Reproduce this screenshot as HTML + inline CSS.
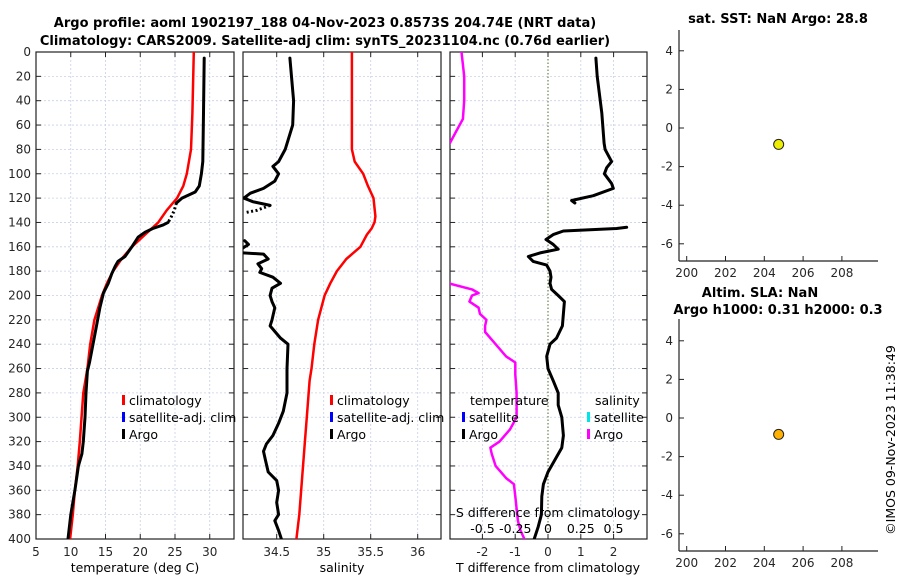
<!DOCTYPE html>
<html><head><meta charset="utf-8">
<style>
body{margin:0;background:#fff;}
svg{display:block;font-family:"DejaVu Sans","Liberation Sans",sans-serif;}
.tk{font-size:12px;fill:#262626;}
.ttl{font-size:13px;font-weight:bold;fill:#000;}
.lg{font-size:12.5px;fill:#000;}
</style></head>
<body>
<svg id="c" width="900" height="580" viewBox="0 0 900 580"></svg>
<script>
// ---- data ----
const depthTicks=[0,20,40,60,80,100,120,140,160,180,200,220,240,260,280,300,320,340,360,380,400];
const tempTicks=[5,10,15,20,25,30];
const salTicks=[34.5,35,35.5,36];
const dTTicks=[-2,-1,0,1,2];
const dSTicks=[-0.5,-0.25,0,0.25,0.5];
const dSTickLabels=["-0.5","-0.25","0","0.25","0.5"];
const lonTicks=[200,202,204,206,208];
const sstTicks=[4,2,0,-2,-4,-6];
const slaTicks=[4,2,0,-2,-4,-6];

const climTempDepth=[0,50,80,100,110,120,130,140,150,160,170,180,190,200,220,240,260,280,320,340,360,380,400];
const climTemp=[27.7,27.5,27.3,26.7,26.2,25.3,23.8,22.6,20.7,18.8,17.3,16.1,15.2,14.5,13.4,12.8,12.4,11.8,11.3,11.0,10.6,10.3,9.9];
const argoTempDepth=[5,50,90,100,110,115,120,124,null,140,142,145,148,152,160,168,172,176,182,190,198,210,225,240,255,262,280,300,320,330,340,360,380,400];
const argoTemp=[29.2,29.1,29.0,28.8,28.5,27.9,26.0,25.2,null,24.0,23.3,21.8,20.7,19.7,18.8,17.8,16.8,16.4,15.9,15.4,14.7,14.2,13.7,13.2,12.7,12.4,12.2,12.05,11.8,11.6,11.1,10.6,10.0,9.6];
const argoTempDotDepth=[124,130,135,140];
const argoTempDot=[25.2,24.9,24.5,24.0];

const climSalDepth=[0,80,90,100,110,120,135,140,145,150,160,170,180,190,200,220,240,260,270,300,320,350,380,400];
const climSal=[35.30,35.30,35.33,35.42,35.47,35.53,35.55,35.54,35.51,35.46,35.39,35.24,35.14,35.07,35.01,34.94,34.90,34.87,34.85,34.82,34.80,34.77,34.74,34.71];
const argoSalDepth=[5,40,60,80,90,94,100,106,112,116,120,123,126,null,155,158,161,null,165,166,170,174,178,181,185,190,194,200,205,210,220,225,235,240,260,270,280,295,305,315,322,328,335,345,352,360,370,380,385,393,400];
const argoSal=[34.64,34.68,34.67,34.59,34.52,34.46,34.52,34.48,34.36,34.22,34.15,34.25,34.43,null,34.16,34.20,34.14,null,34.14,34.36,34.41,34.30,34.34,34.32,34.46,34.54,34.45,34.43,34.45,34.48,34.45,34.43,34.54,34.62,34.61,34.61,34.61,34.57,34.52,34.46,34.39,34.36,34.38,34.41,34.50,34.52,34.50,34.52,34.48,34.52,34.55];
const argoSalDotDepth=[126,128,130,132];
const argoSalDot=[34.43,34.36,34.29,34.16];

const dTDepth=[5,20,50,75,80,90,95,100,108,112,118,122,124,null,144,145,147,150,154,158,162,165,168,172,175,180,185,190,195,200,205,215,225,235,240,250,260,270,280,290,300,315,325,335,345,355,365,380,390,400];
const dT=[1.46,1.5,1.64,1.71,1.74,1.94,1.79,1.72,1.94,1.99,1.38,0.72,0.82,null,2.4,2.09,0.47,0.16,-0.06,0.16,0.31,-0.24,-0.6,-0.45,-0.04,0.06,0.09,0.06,0.11,0.31,0.5,0.47,0.44,0.26,0.06,-0.04,0.0,0.16,0.31,0.31,0.42,0.47,0.42,0.21,0.0,-0.14,-0.19,-0.2,-0.3,-0.42];
const dSDepth=[0,20,40,55,65,75,null,190,195,198,200,205,210,215,220,225,230,240,250,255,265,280,290,300,310,320,325,330,340,350,355,365,375,385,393,400];
const dS=[-0.66,-0.64,-0.64,-0.65,-0.70,-0.75,null,-0.76,-0.58,-0.53,-0.58,-0.60,-0.53,-0.52,-0.47,-0.48,-0.48,-0.40,-0.32,-0.25,-0.25,-0.24,-0.24,-0.24,-0.29,-0.37,-0.44,-0.43,-0.40,-0.32,-0.26,-0.25,-0.24,-0.23,-0.21,-0.18];

const argoLon=[204.74];
const argoLat=[-0.85];
const argoLatB=[-0.85];

// ---- drawing ----
const svg=document.getElementById('c');
const NS='http://www.w3.org/2000/svg';
function mk(tag,attrs,parent){const e=document.createElementNS(NS,tag);for(const k in attrs)e.setAttribute(k,attrs[k]);(parent||svg).appendChild(e);return e;}
function txt(x,y,s,cls,anchor,parent){const t=mk('text',{x:x,y:y,class:cls,'text-anchor':anchor||'middle'},parent);t.textContent=s;return t;}

const yTop=52,yBot=539;
const yD=d=>yTop+(d/400)*(yBot-yTop);
const panels=[
 {name:'temperature-panel',x0:36,x1:234,sx:v=>36+(v-5)*6.95},
 {name:'salinity-panel',x0:243,x1:441,sx:v=>276.7+(v-34.5)*94},
 {name:'difference-panel',x0:450,x1:647,sx:v=>548+v*32.8}
];
const sxS=v=>548+v*131;

function path(xs,ds,sx,color,w,name,dash){
  let d='',pen=false;
  for(let i=0;i<xs.length;i++){
    if(xs[i]===null||ds[i]===null){pen=false;continue;}
    d+=(pen?'L':'M')+sx(xs[i]).toFixed(1)+' '+yD(ds[i]).toFixed(1);pen=true;
  }
  const p=mk('path',{d:d,fill:'none',stroke:color,'stroke-width':w,'stroke-linejoin':'round','stroke-linecap':dash?'butt':'round'});
  if(dash)p.setAttribute('stroke-dasharray',dash);
  
  
  return p;
}

panels.forEach((P,pi)=>{
  const g=mk('g',{});
  
  
  depthTicks.forEach(d=>{
    mk('line',{x1:P.x0,x2:P.x1,y1:yD(d),y2:yD(d),stroke:'#c8d0e8','stroke-width':0.8,'stroke-dasharray':'2 2'},g);
    mk('line',{x1:P.x0,x2:P.x0+5,y1:yD(d),y2:yD(d),stroke:'#222','stroke-width':1},g);
    mk('line',{x1:P.x1-5,x2:P.x1,y1:yD(d),y2:yD(d),stroke:'#222','stroke-width':1},g);
  });
  let ticks=pi===0?tempTicks:pi===1?salTicks:dTTicks;
  ticks.forEach(v=>{
    const x=P.sx(v);
    if(pi===2&&v===0){
      mk('line',{x1:x,x2:x,y1:yTop,y2:yBot,stroke:'#4a6a2a','stroke-width':1,'stroke-dasharray':'1.5 2'},g);
    } else {
      mk('line',{x1:x,x2:x,y1:yTop,y2:yBot,stroke:'#c8d0e8','stroke-width':0.8,'stroke-dasharray':'2 2'},g);
    }
    mk('line',{x1:x,x2:x,y1:yBot,y2:yBot-5,stroke:'#222'},g);
    mk('line',{x1:x,x2:x,y1:yTop,y2:yTop+5,stroke:'#222'},g);
    const t=txt(x,556,String(v),'tk','middle',g);
    
    
  });
  mk('rect',{x:P.x0,y:yTop,width:P.x1-P.x0,height:yBot-yTop,fill:'none',stroke:'#222','stroke-width':1.2},g);
});
depthTicks.forEach(d=>{
  const t=txt(31,yD(d)+4,String(d),'tk','end');
  
  
});
const defs=mk('defs',{});
panels.forEach((P,i)=>{const cp=mk('clipPath',{id:'cp'+i},defs);mk('rect',{x:P.x0,y:yTop,width:P.x1-P.x0,height:yBot-yTop},cp);});

let p;
p=path(climTemp,climTempDepth,panels[0].sx,'#ff0000',2.5,'climatology-temperature-line');p.setAttribute('clip-path','url(#cp0)');
p=path(argoTemp,argoTempDepth,panels[0].sx,'#000',3,'argo-temperature-line');p.setAttribute('clip-path','url(#cp0)');
p=path(argoTempDot,argoTempDotDepth,panels[0].sx,'#000',3,'argo-temperature-dotted','2 2.5');p.setAttribute('clip-path','url(#cp0)');
p=path(climSal,climSalDepth,panels[1].sx,'#ff0000',2.5,'climatology-salinity-line');p.setAttribute('clip-path','url(#cp1)');
p=path(argoSal,argoSalDepth,panels[1].sx,'#000',3,'argo-salinity-line');p.setAttribute('clip-path','url(#cp1)');
p=path(argoSalDot,argoSalDotDepth,panels[1].sx,'#000',3,'argo-salinity-dotted','2 2.5');p.setAttribute('clip-path','url(#cp1)');
p=path(dS,dSDepth,sxS,'#ff00ff',2.5,'salinity-difference-line');p.setAttribute('clip-path','url(#cp2)');
p=path(dT,dTDepth,panels[2].sx,'#000',3,'temperature-difference-line');p.setAttribute('clip-path','url(#cp2)');

dSTicks.forEach((v,i)=>{
  const t=txt(sxS(v),533,dSTickLabels[i],'lg','middle');
  
  
});
let t=txt(548,517,'S difference from climatology','lg','middle');


[['temperature (deg C)',135,'temperature-axis-title'],['salinity',342,'salinity-axis-title'],['T difference from climatology',548,'t-diff-axis-title']].forEach(a=>{
  const e=txt(a[1],572,a[0],'lg','middle');
  
});

function legend(x,y,color,label,name){
  const g=mk('g',{});
  
  
  mk('rect',{x:x,y:y-9,width:3,height:10,fill:color},g);
  txt(x+7,y+1,label,'lg','start',g);
}
legend(122,404,'#ff0000','climatology','legend-climatology');
legend(122,421,'#0000ff','satellite-adj. clim','legend-satellite-adj-clim');
legend(122,438,'#000','Argo','legend-argo');
legend(330,404,'#ff0000','climatology','legend-climatology-2');
legend(330,421,'#0000ff','satellite-adj. clim','legend-satellite-adj-clim-2');
legend(330,438,'#000','Argo','legend-argo-2');
t=txt(470,405,'temperature','lg','start');
t=txt(595,405,'salinity','lg','start');
legend(462,421,'#0000ff','satellite','legend-t-satellite');
legend(462,438,'#000','Argo','legend-t-argo');
legend(587,421,'#00e5e5','satellite','legend-s-satellite');
legend(587,438,'#ff00ff','Argo','legend-s-argo');

t=txt(325,27,'Argo profile: aoml 1902197_188 04-Nov-2023 0.8573S 204.74E (NRT data)','ttl');

t=txt(325,45,'Climatology: CARS2009. Satellite-adj clim: synTS_20231104.nc (0.76d earlier)','ttl');


const sxLon=v=>686.7+(v-200)*19.4;
function rightPanel(yTopR,yBotR,y0,ticks,lats,color,name){
  const g=mk('g',{});
  
  
  const sy=v=>y0-v*19.3;
  mk('line',{x1:679,x2:679,y1:yTopR,y2:yBotR,stroke:'#222','stroke-width':1.2},g);
  mk('line',{x1:679,x2:878,y1:yBotR,y2:yBotR,stroke:'#222','stroke-width':1.2},g);
  ticks.forEach(v=>{
    mk('line',{x1:679,x2:684,y1:sy(v),y2:sy(v),stroke:'#222'},g);
    txt(673,sy(v)+4,String(v),'tk','end',g);
  });
  lonTicks.forEach(v=>{
    mk('line',{x1:sxLon(v),x2:sxLon(v),y1:yBotR,y2:yBotR-5,stroke:'#222'},g);
    txt(sxLon(v),yBotR+16,String(v),'tk','middle',g);
  });
  lats.forEach((la,i)=>{
    const c=mk('circle',{cx:sxLon(argoLon[i]),cy:sy(la),r:5,fill:color,stroke:'#222','stroke-width':1},g);
    
    
  });
}
rightPanel(30,261,128,sstTicks,argoLat,'#eeee00','sst-panel');
rightPanel(319,551,418,slaTicks,argoLatB,'#ffb000','sla-panel');
t=txt(778,23,'sat. SST: NaN Argo: 28.8','ttl');
t=txt(760,297,'Altim. SLA: NaN','ttl');
t=txt(778,314,'Argo h1000: 0.31 h2000: 0.3','ttl');
t=txt(0,0,'©IMOS 09-Nov-2023 11:38:49','lg','middle');
t.setAttribute('transform','translate(895,440) rotate(-90)');

</script>
</body></html>
